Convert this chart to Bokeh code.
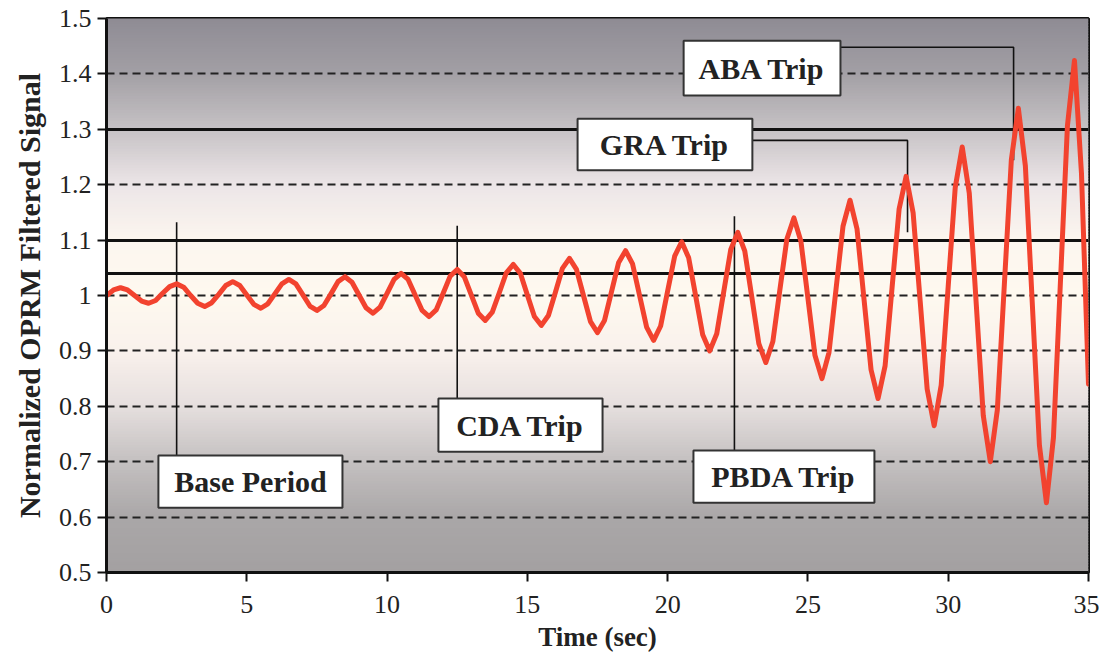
import numpy as np
from bokeh.plotting import figure
from bokeh.models import FixedTicker, Range1d
from bokeh.core.properties import value
from bokeh.embed import file_html
from bokeh.resources import INLINE

# ---- data ----
time_s = [0.0, 0.25, 0.5, 0.75, 1.0, 1.25, 1.5, 1.75, 2.0, 2.25, 2.5, 2.75, 3.0, 3.25, 3.5, 3.75,
          4.0, 4.25, 4.5, 4.75, 5.0, 5.25, 5.5, 5.75, 6.0, 6.25, 6.5, 6.75, 7.0, 7.25, 7.5, 7.75,
          8.0, 8.25, 8.5, 8.75, 9.0, 9.25, 9.5, 9.75, 10.0, 10.25, 10.5, 10.75, 11.0, 11.25, 11.5, 11.75,
          12.0, 12.25, 12.5, 12.75, 13.0, 13.25, 13.5, 13.75, 14.0, 14.25, 14.5, 14.75, 15.0, 15.25, 15.5, 15.75,
          16.0, 16.25, 16.5, 16.75, 17.0, 17.25, 17.5, 17.75, 18.0, 18.25, 18.5, 18.75, 19.0, 19.25, 19.5, 19.75,
          20.0, 20.25, 20.5, 20.75, 21.0, 21.25, 21.5, 21.75, 22.0, 22.25, 22.5, 22.75, 23.0, 23.25, 23.5, 23.75,
          24.0, 24.25, 24.5, 24.75, 25.0, 25.25, 25.5, 25.75, 26.0, 26.25, 26.5, 26.75, 27.0, 27.25, 27.5, 27.75,
          28.0, 28.25, 28.5, 28.75, 29.0, 29.25, 29.5, 29.75, 30.0, 30.25, 30.5, 30.75, 31.0, 31.25, 31.5, 31.75,
          32.0, 32.25, 32.5, 32.75, 33.0, 33.25, 33.5, 33.75, 34.0, 34.25, 34.5, 34.75, 35.0]
signal = [1.000, 1.010, 1.014, 1.010, 1.000, 0.990, 0.986, 0.991, 1.004, 1.016, 1.021, 1.015, 1.000, 0.986, 0.980, 0.987,
          1.002, 1.018, 1.025, 1.018, 1.001, 0.984, 0.977, 0.985, 1.003, 1.021, 1.029, 1.021, 1.001, 0.981, 0.973, 0.982,
          1.003, 1.025, 1.034, 1.024, 1.001, 0.978, 0.968, 0.979, 1.004, 1.029, 1.040, 1.029, 1.001, 0.973, 0.962, 0.974,
          1.004, 1.035, 1.047, 1.034, 1.001, 0.968, 0.955, 0.970, 1.005, 1.041, 1.056, 1.040, 1.001, 0.962, 0.946, 0.964,
          1.006, 1.049, 1.067, 1.047, 1.000, 0.953, 0.933, 0.955, 1.007, 1.059, 1.081, 1.057, 1.000, 0.943, 0.919, 0.945,
          1.008, 1.071, 1.097, 1.068, 0.999, 0.929, 0.900, 0.931, 1.007, 1.083, 1.114, 1.080, 0.997, 0.913, 0.879, 0.917,
          1.010, 1.102, 1.140, 1.098, 0.995, 0.892, 0.850, 0.897, 1.011, 1.125, 1.172, 1.120, 0.993, 0.866, 0.814, 0.873,
          1.015, 1.156, 1.215, 1.149, 0.990, 0.831, 0.765, 0.838, 1.017, 1.195, 1.268, 1.185, 0.984, 0.783, 0.700, 0.793,
          1.019, 1.245, 1.338, 1.234, 0.982, 0.730, 0.626, 0.743, 1.025, 1.307, 1.424, 1.220, 0.840]

trip_levels = [1.04, 1.1, 1.3]
grid_levels = [0.6, 0.7, 0.8, 0.9, 1.0, 1.2, 1.4]
y_ticks = [0.5, 0.6, 0.7, 0.8, 0.9, 1.0, 1.1, 1.2, 1.3, 1.4, 1.5]
y_tick_labels = ["0.5", "0.6", "0.7", "0.8", "0.9", "1", "1.1", "1.2", "1.3", "1.4", "1.5"]
x_ticks = [0, 5, 10, 15, 20, 25, 30, 35]

labels = ["Base Period", "CDA Trip", "PBDA Trip", "GRA Trip", "ABA Trip"]
box_left = [1.85, 11.83, 20.92, 16.79, 20.57]
box_right = [8.41, 17.68, 27.37, 23.02, 26.16]
box_top = [0.711, 0.814, 0.720, 1.319, 1.460]
box_bottom = [0.617, 0.718, 0.626, 1.226, 1.361]
conn_xs = [[2.5, 2.5], [12.5, 12.5], [22.38, 22.38], [23.02, 28.55, 28.55], [26.16, 32.33, 32.33]]
conn_ys = [[1.132, 0.711], [1.126, 0.814], [1.143, 0.720], [1.280, 1.280, 1.114], [1.448, 1.448, 1.244]]

# background gradient key colours (style)
grad_y = [0.5, 0.6, 0.7, 0.8, 0.9, 1.0, 1.1, 1.2, 1.3, 1.4, 1.5]
grad_c = ["#a3a0a1", "#aaa7a8", "#c4c0c0", "#e5dfde", "#f9f1ec", "#fef9ef", "#fcf6ef", "#ece5e7",
          "#c6c2c5", "#a3a0a5", "#8f8c94"]

p = figure(width=1099, height=653, output_backend="svg", toolbar_location=None,
           x_range=Range1d(0, 35), y_range=Range1d(0.5, 1.5),
           frame_width=982, frame_height=554,
           min_border_left=106, min_border_right=11, min_border_top=18, min_border_bottom=81)
p.border_fill_color = "white"
p.background_fill_color = "#dddddd"
p.outline_line_color = "#111111"
p.outline_line_width = 3
p.xgrid.visible = False
p.ygrid.visible = False

# gradient strips
def hex2rgb(h):
    return np.array([int(h[i:i + 2], 16) for i in (1, 3, 5)], dtype=float)
keys = np.array([hex2rgb(c) for c in grad_c])
ys = np.arange(0.5, 1.5, 0.005)
cols = []
for yv in ys + 0.0025:
    rgb = [np.interp(yv, grad_y, keys[:, k]) for k in range(3)]
    cols.append("#%02x%02x%02x" % tuple(int(round(v)) for v in rgb))
p.quad(left=0, right=35, bottom=ys, top=ys + 0.0065, fill_color=cols, line_color=None)

# dashed grid and solid trip lines
p.hspan(y=grid_levels, line_color="#222222", line_width=2, line_dash="8 5")
p.hspan(y=trip_levels, line_color="#111111", line_width=3)

# connectors
p.multi_line(xs=conn_xs, ys=conn_ys, line_color="#111111", line_width=1.6)

# signal
p.line(time_s, signal, line_color="#f2432f", line_width=5, line_join="round", line_cap="round")

# label boxes
p.quad(left=box_left, right=box_right, top=box_top, bottom=box_bottom,
       fill_color="white", line_color="#333333", line_width=2)
cx = [(a + b) / 2 for a, b in zip(box_left, box_right)]
cy = [(a + b) / 2 for a, b in zip(box_top, box_bottom)]
p.text(x=cx, y=cy, text=labels, text_align="center", text_baseline="middle",
       text_font=value("Liberation Serif"), text_font_style="bold",
       text_font_size="30px", text_color="#222222")

# axes
p.yaxis.ticker = FixedTicker(ticks=y_ticks)
p.yaxis.major_label_overrides = {t: l for t, l in zip(y_ticks, y_tick_labels)}
p.xaxis.ticker = FixedTicker(ticks=x_ticks)
for ax in (p.xaxis[0], p.yaxis[0]):
    ax.axis_line_color = "#111111"
    ax.axis_line_width = 3
    ax.major_tick_line_color = "#111111"
    ax.major_tick_line_width = 2
    ax.major_tick_out = 9
    ax.major_tick_in = 0
    ax.minor_tick_line_color = None
    ax.major_label_text_font = "Liberation Serif"
    ax.major_label_text_font_size = "26px"
    ax.major_label_text_color = "#222222"
    ax.axis_label_text_font = "Liberation Serif"
    ax.axis_label_text_font_style = "bold"
    ax.axis_label_text_color = "#222222"
p.yaxis.axis_label = "Normalized OPRM Filtered Signal"
p.yaxis.axis_label_text_font_size = "30px"
p.yaxis.major_label_standoff = 6
p.yaxis.axis_label_standoff = 10
p.xaxis.axis_label = "Time (sec)"
p.xaxis.axis_label_text_font_size = "27px"
p.xaxis.major_label_standoff = 14
p.xaxis.axis_label_standoff = 6

open("out.html", "w").write(file_html(p, INLINE))
